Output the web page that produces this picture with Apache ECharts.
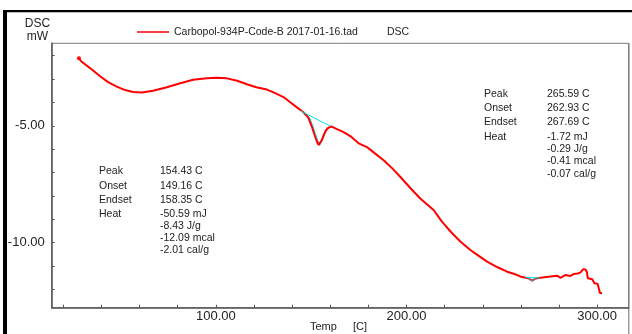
<!DOCTYPE html>
<html><head><meta charset="utf-8">
<script src="https://cdn.jsdelivr.net/npm/echarts@6/dist/echarts.min.js"></script>
<style>html,body{margin:0;padding:0;background:#fff}#c{width:632px;height:334px}</style>
</head><body><div id="c"></div>
<script>
const seriesName = 'Carbopol-934P-Code-B 2017-01-16.tad';
const signalName = 'DSC';
const temps = [28.2, 29.3, 34.0, 39.3, 43.5, 48.0, 52.4, 56.6, 61.3, 67.1, 74.3, 81.3, 88.1, 95.3, 100.5, 105.8, 111.2, 116.3, 121.2, 126.8, 131.1, 135.5, 139.0, 142.7, 145.8, 148.5, 150.4, 151.6, 152.9, 153.9, 154.8, 155.6, 156.6, 157.6, 159.0, 160.8, 163.5, 167.0, 170.5, 174.9, 179.3, 183.6, 188.0, 192.4, 196.7, 202.0, 207.2, 214.2, 218.5, 223.2, 228.2, 233.5, 237.7, 242.3, 247.5, 252.8, 256.6, 260.6, 263.9, 265.9, 267.6, 270.2, 275.5, 279.0, 280.7, 283.4, 286.0, 287.7, 289.7, 291.2, 292.7, 293.9, 294.6, 295.1, 297.4, 298.6, 300.3, 301.4, 302.6];
const dsc = [-2.11, -2.24, -2.53, -2.88, -3.13, -3.32, -3.47, -3.55, -3.57, -3.50, -3.35, -3.18, -3.03, -2.96, -2.94, -2.97, -3.07, -3.22, -3.35, -3.45, -3.60, -3.77, -3.99, -4.22, -4.41, -4.65, -5.04, -5.35, -5.65, -5.82, -5.76, -5.61, -5.40, -5.21, -5.08, -5.03, -5.14, -5.27, -5.44, -5.75, -5.91, -6.19, -6.47, -6.81, -7.18, -7.66, -8.11, -8.60, -9.09, -9.53, -9.95, -10.31, -10.55, -10.81, -11.04, -11.24, -11.34, -11.47, -11.52, -11.62, -11.53, -11.50, -11.45, -11.41, -11.50, -11.38, -11.42, -11.34, -11.32, -11.28, -11.13, -11.15, -11.25, -11.52, -11.56, -11.73, -11.76, -12.14, -12.16];
const base1T = [144.4, 160.0];
const base1V = [-4.36, -5.01];
const peak1T = [146.3, 149.2, 151.1, 152.3, 153.6, 154.5, 155.2, 155.8, 156.8, 157.8, 159.4];
const peak1V = [-4.42, -4.66, -5.05, -5.36, -5.66, -5.84, -5.78, -5.62, -5.41, -5.22, -5.06];
const base2T = [262.4, 269.9];
const base2V = [-11.49, -11.51];
const peak2T = [263.9, 265.6, 267.4];
const peak2V = [-11.50, -11.64, -11.51];
const xLabelValues = [100, 200, 300];
const xTickValues = [20, 40, 60, 80, 100, 120, 140, 160, 180, 200, 220, 240, 260, 280, 300];
const yLabelValues = [-10, -5];
const yTickValues = [-12, -11, -10, -9, -8, -7, -6, -5, -4, -3, -2];
const infoLabels = ['Peak', 'Onset', 'Endset', 'Heat', '', '', ''];
const leftInfoValues = ['154.43 C', '149.16 C', '158.35 C', '-50.59 mJ', '-8.43 J/g', '-12.09 mcal', '-2.01 cal/g'];
const rightInfoValues = ['265.59 C', '262.93 C', '267.69 C', '-1.72 mJ', '-0.29 J/g', '-0.41 mcal', '-0.07 cal/g'];

const FONT = 'Liberation Sans, Arial, sans-serif';
const pairs = (t, v) => t.map((x, i) => [x, v[i]]);
const mainData = pairs(temps, dsc).map((p, i) => i === 0 ? {value: p, symbol: 'circle', symbolSize: 4} : {value: p});

const leftRows = [171.5, 186, 200.5, 214, 226.5, 238.5, 250.5];
const rightRows = [94, 108.5, 122.5, 137, 149.5, 161, 174];
const txt = (s, x, y, size, align) => ({type: 'text', x: x, y: y, silent: true,
  style: {text: s, font: size + 'px ' + FONT, fill: '#222', align: align || 'left', verticalAlign: 'middle'}});
const graphics = [
  {type: 'rect', shape: {x: 3, y: 10, width: 629, height: 2.2}, style: {fill: '#000'}, silent: true},
  {type: 'rect', shape: {x: 3, y: 10, width: 4, height: 324}, style: {fill: '#000'}, silent: true},
  {type: 'line', shape: {x1: 628.8, y1: 43.3, x2: 628.8, y2: 334}, style: {stroke: '#707070', lineWidth: 1}, silent: true},
  txt('DSC', 37.5, 24, 12, 'center'),
  txt('mW', 37.5, 37, 12, 'center'),
  txt(signalName, 387, 32, 10.5),
  txt('Temp', 310, 327, 11),
  txt('[C]', 353, 327, 11)
];
infoLabels.forEach((l, i) => {
  if (l) { graphics.push(txt(l, 99, leftRows[i], 10.5)); graphics.push(txt(l, 484, rightRows[i], 10.5)); }
  graphics.push(txt(leftInfoValues[i], 160, leftRows[i], 10.5));
  graphics.push(txt(rightInfoValues[i], 547, rightRows[i], 10.5));
});

const chart = echarts.init(document.getElementById('c'), null, {renderer: 'canvas'});
chart.setOption({
  animation: false,
  backgroundColor: '#fff',
  legend: {
    data: [seriesName], left: 137, top: 26.5, itemWidth: 32, itemHeight: 1.5, icon: 'rect',
    padding: 0, textStyle: {fontFamily: FONT, fontSize: 10.5, color: '#222'}
  },
  grid: {left: 51.7, top: 43.3, right: 3.2, bottom: 26.3, show: true, borderColor: '#7a7a7a', borderWidth: 1, backgroundColor: 'transparent'},
  xAxis: {
    type: 'value', min: 13.9, max: 316.6,
    splitLine: {show: false},
    axisLine: {lineStyle: {color: '#555', width: 1.5}},
    axisTick: {inside: true, length: 3, customValues: xTickValues, lineStyle: {color: '#555'}},
    axisLabel: {customValues: xLabelValues, formatter: v => v.toFixed(2), fontFamily: FONT, fontSize: 13, color: '#222', margin: 2}
  },
  yAxis: {
    type: 'value', min: -12.78, max: -1.47,
    splitLine: {show: false},
    axisLine: {lineStyle: {color: '#555', width: 1.5}},
    axisTick: {inside: true, length: 3, customValues: yTickValues, lineStyle: {color: '#555'}},
    axisLabel: {customValues: yLabelValues, formatter: v => v.toFixed(2), fontFamily: FONT, fontSize: 13, color: '#222', margin: 7}
  },
  graphic: graphics,
  series: [
    {name: seriesName, type: 'line', data: mainData, showSymbol: true, symbol: 'none', color: '#ff0000',
      lineStyle: {color: '#ff0000', width: 2}, itemStyle: {color: '#ff0000'}, z: 3},
    {name: 'b1', type: 'line', data: pairs(base1T, base1V), showSymbol: false, lineStyle: {color: '#00e5ee', width: 1}, z: 4},
    {name: 'p1', type: 'line', data: pairs(peak1T, peak1V), showSymbol: false, lineStyle: {color: '#00e5ee', width: 1}, z: 2},
    {name: 'b2', type: 'line', data: pairs(base2T, base2V), showSymbol: false, lineStyle: {color: '#00e5ee', width: 1}, z: 4},
    {name: 'p2', type: 'line', data: pairs(peak2T, peak2V), showSymbol: false, lineStyle: {color: '#00e5ee', width: 1}, z: 4}
  ]
});
</script></body></html>
